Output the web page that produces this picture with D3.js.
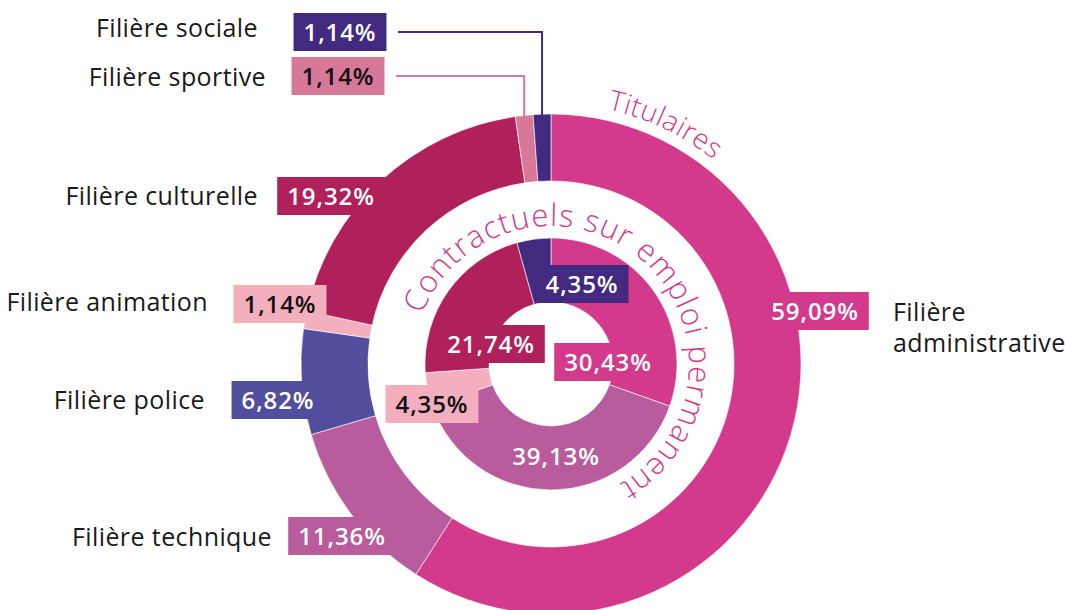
<!DOCTYPE html>
<html>
<head>
<meta charset="utf-8">
<script src="https://cdn.jsdelivr.net/npm/d3@7"></script>
<style>
  body { margin: 0; background: #fff; }
  svg { display: block; font-family: "Open Sans", Lato, sans-serif; }
</style>
</head>
<body>
<svg id="chart" width="1065" height="610"></svg>
<script>
// data
var filieres = ["administrative", "technique", "police", "animation", "culturelle", "sportive", "sociale"]
var titulaires = [59.09, 11.36, 6.82, 1.14, 19.32, 1.14, 1.14]
var contractuels = [30.43, 39.13, 0, 4.35, 21.74, 0, 4.35]
var couleurs = ["#d33a8c", "#b85c9e", "#524d9c", "#f3afbe", "#b0205a", "#d77898", "#412a80"]
var texteSombre = ["animation", "sportive"]

var width = 1065, height = 610
var cx = 551, cy = 364

var svg = d3.select("#chart")
var g = svg.append("g").attr("transform", "translate(" + cx + "," + cy + ")")

var fmt = function (v) { return v.toFixed(2).replace(".", ",") + "%" }

var pie = d3.pie().sort(null).value(function (d) { return d.value })

var outerData = pie(filieres.map(function (f, i) { return { key: f, value: titulaires[i] } }))
var innerData = pie(filieres.map(function (f, i) { return { key: f, value: contractuels[i] } }))

var outerArc = d3.arc().innerRadius(183).outerRadius(250)
var innerArc = d3.arc().innerRadius(62).outerRadius(126)

var color = d3.scaleOrdinal().domain(filieres).range(couleurs)

g.append("g").selectAll("path")
  .data(outerData)
  .enter().append("path")
  .attr("d", outerArc)
  .attr("fill", function (d) { return color(d.data.key) })
  .attr("stroke", "#fff")
  .attr("stroke-width", 0.6)

g.append("g").selectAll("path")
  .data(innerData.filter(function (d) { return d.data.value > 0 }))
  .enter().append("path")
  .attr("d", innerArc)
  .attr("fill", function (d) { return color(d.data.key) })
  .attr("stroke", "#fff")
  .attr("stroke-width", 0.6)

// curved titles
function arcPath(r, a0, a1) {
  var x0 = r * Math.sin(a0), y0 = -r * Math.cos(a0)
  var x1 = r * Math.sin(a1), y1 = -r * Math.cos(a1)
  var large = (a1 - a0) > Math.PI ? 1 : 0
  return "M" + x0 + "," + y0 + "A" + r + "," + r + " 0 " + large + " 1 " + x1 + "," + y1
}
var rad = Math.PI / 180
var defs = svg.append("defs")
defs.append("path").attr("id", "pathTit").attr("d", arcPath(261, 12.5 * rad, 80 * rad))
defs.append("path").attr("id", "pathCon").attr("d", arcPath(138, -69 * rad, 178 * rad))

g.append("text")
  .attr("fill", "#d33a8c")
  .attr("font-size", 28)
  .attr("font-weight", 300)
  .attr("letter-spacing", 0.5)
  .append("textPath")
  .attr("href", "#pathTit")
  .text("Titulaires")

g.append("text")
  .attr("fill", "#d33a8c")
  .attr("font-size", 31)
  .attr("font-weight", 300)
  .attr("letter-spacing", 1)
  .append("textPath")
  .attr("href", "#pathCon")
  .text("Contractuels sur emploi permanent")

// label layout (box centres, in page coordinates)
var outerPos = {
  administrative: [815, 311],
  technique: [342, 536],
  police: [278, 400],
  animation: [280, 304],
  culturelle: [331, 196],
  sportive: [338, 76],
  sociale: [340, 32]
}
var innerPos = {
  administrative: [608, 362],
  technique: [556, 456],
  animation: [432, 404],
  culturelle: [491, 344],
  sociale: [582, 284]
}
var namePos = {
  technique: [272, 537],
  police: [205, 400],
  animation: [208, 302],
  culturelle: [258, 196],
  sportive: [266, 77],
  sociale: [258, 28]
}

// leader lines for the thin slices at the top
;["sportive", "sociale"].forEach(function (k) {
  var d = outerData.find(function (e) { return e.data.key === k })
  var a = (d.startAngle + d.endAngle) / 2
  var x = cx + 250 * Math.sin(a), yEnd = cy - 250 * Math.cos(a) + 2
  var p = outerPos[k]
  svg.append("path")
    .attr("d", "M" + (p[0] + 58) + "," + p[1] + "H" + x + "V" + yEnd)
    .attr("fill", "none")
    .attr("stroke", color(k))
    .attr("stroke-width", 2)
})

function addBox(parent, pos, key, value, withBox) {
  var lg = parent.append("g").attr("transform", "translate(" + pos[0] + "," + pos[1] + ")")
  var rect = lg.append("rect").attr("fill", color(key))
  var t = lg.append("text")
    .attr("text-anchor", "middle")
    .attr("dy", "0.36em")
    .attr("font-size", 24)
    .attr("font-weight", 600)
    .attr("letter-spacing", 0.9)
    .attr("fill", texteSombre.indexOf(key) >= 0 ? "#111" : "#fff")
    .text(fmt(value))
  var bb = t.node().getBBox()
  var w = bb.width + 20, h = 38
  rect.attr("x", -w / 2).attr("y", -h / 2).attr("width", w).attr("height", h)
  if (!withBox) rect.remove()
}

var labels = svg.append("g")
outerData.forEach(function (d) {
  addBox(labels, outerPos[d.data.key], d.data.key, d.data.value, true)
})
innerData.filter(function (d) { return d.data.value > 0 }).forEach(function (d) {
  addBox(labels, innerPos[d.data.key], d.data.key, d.data.value, d.data.key !== "technique")
})

// category names
Object.keys(namePos).forEach(function (k) {
  svg.append("text")
    .attr("x", namePos[k][0])
    .attr("y", namePos[k][1])
    .attr("dy", "0.36em")
    .attr("text-anchor", "end")
    .attr("font-size", 25)
    .attr("font-weight", 400)
    .attr("letter-spacing", 0.4)
    .attr("fill", "#1a1a1a")
    .text("Filière " + k)
})
var adm = svg.append("text")
  .attr("x", 893)
  .attr("y", 312)
  .attr("dy", "0.36em")
  .attr("font-size", 25)
  .attr("font-weight", 400)
  .attr("letter-spacing", 0.4)
  .attr("fill", "#1a1a1a")
adm.append("tspan").text("Filière")
adm.append("tspan").attr("x", 893).attr("dy", 31).text("administrative")
</script>
</body>
</html>
